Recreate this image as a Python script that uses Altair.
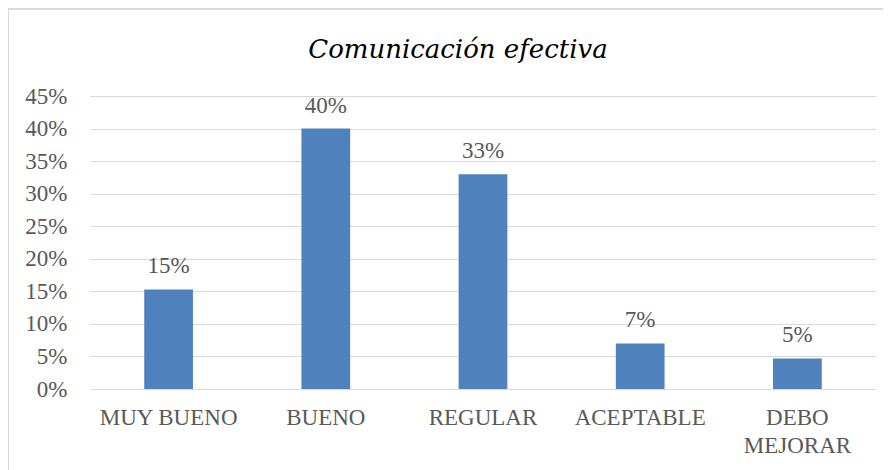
import altair as alt
import pandas as pd

categories = ["MUY BUENO", "BUENO", "REGULAR", "ACEPTABLE", "DEBO MEJORAR"]
values = [15.3, 40.0, 33.0, 7.0, 4.7]
labels = ["15%", "40%", "33%", "7%", "5%"]
y_ticks = [0, 5, 10, 15, 20, 25, 30, 35, 40, 45]

df = pd.DataFrame({"cat": categories, "val": values, "lab": labels})

FONT = "Liberation Serif"
TITLE_FONT = "DejaVu Serif"
GRAY = "#595959"

x = alt.X(
    "cat:N",
    sort=categories,
    scale=alt.Scale(paddingInner=0.69, paddingOuter=0.345),
    axis=alt.Axis(
        title=None, labelAngle=0, ticks=False, domain=False, grid=False,
        labelFont=FONT, labelFontSize=23, labelColor=GRAY, labelPadding=17,
        labelLineHeight=28, labelOverlap=False,
        labelExpr="datum.label == 'DEBO MEJORAR' ? ['DEBO', 'MEJORAR'] : datum.label",
    ),
)
y = alt.Y(
    "val:Q",
    scale=alt.Scale(domain=[0, 45], nice=False),
    axis=alt.Axis(
        title=None, values=y_ticks, tickCount=10, labelExpr="datum.value + '%'",
        ticks=False, domain=False, grid=True, gridColor="#D9D9D9", gridWidth=1.2,
        labelFont=FONT, labelFontSize=23, labelColor=GRAY, labelPadding=23,
        labelOverlap=False, labelFlush=False,
    ),
)

bars = alt.Chart(df).mark_bar(color="#4F81BD").encode(x=x, y=y)
text = alt.Chart(df).mark_text(
    font=FONT, fontSize=23, color=GRAY, dy=-16, baseline="alphabetic"
).encode(x=x, y=y, text="lab:N")

border = alt.Chart(df).mark_rect(fill=None, stroke="#D9D9D9", strokeWidth=1.5).encode(
    x=alt.value(-82), x2=alt.value(1000), y=alt.value(-87), y2=alt.value(1000)
)

chart = alt.layer(border, bars, text).properties(
    width=786, height=293,
    title=alt.TitleParams(
        "Comunicación efectiva", font=TITLE_FONT, fontStyle="italic", fontWeight="normal",
        fontSize=26, color="#000000", anchor="middle", frame="group", dx=-25,
        baseline="alphabetic", offset=-76,
    ),
    autosize=alt.AutoSizeParams(type="none"),
    padding={"left": 82, "top": 88, "right": 7, "bottom": 81},
).configure(background="white", view=alt.ViewConfig(stroke=None))

chart.save("out.html", embed_options={"renderer": "svg", "actions": False})
